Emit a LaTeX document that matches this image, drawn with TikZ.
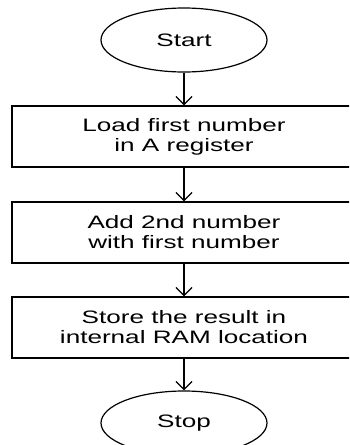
\documentclass[tikz,border=0pt]{standalone}
\usepackage{fontspec}
\setmainfont[FakeStretch=1.45]{Liberation Sans}
\usetikzlibrary{shapes.geometric,arrows.meta}
\begin{document}
\begin{tikzpicture}[x=1pt,y=1pt,
  every node/.style={font=\fontsize{18}{20}\selectfont, align=center, inner sep=0pt},
  term/.style={ellipse, draw, line width=1.2pt, minimum width=166pt, minimum height=64pt},
  procbox/.style={rectangle, draw, line width=1.3pt, minimum width=344pt, minimum height=61pt},
  flow/.style={line width=1.3pt, -{Straight Barb[length=8pt,width=16pt,line width=1.3pt]}}
]
\clip (0,0) rectangle (349,-445);
\node[term] (start) at (184,-40) {Start};
\node[procbox] (b1) at (184,-136.5) {Load first number\\in A register};
\node[procbox] (b2) at (184,-232.5) {Add 2nd number\\with first number};
\node[procbox] (b3) at (184,-327.5) {Store the result in\\internal RAM location};
\node[term] (stop) at (184,-423) {Stop};
\draw[flow] (start) -- (b1);
\draw[flow] (b1) -- (b2);
\draw[flow] (b2) -- (b3);
\draw[flow] (b3) -- (stop);
\end{tikzpicture}
\end{document}
